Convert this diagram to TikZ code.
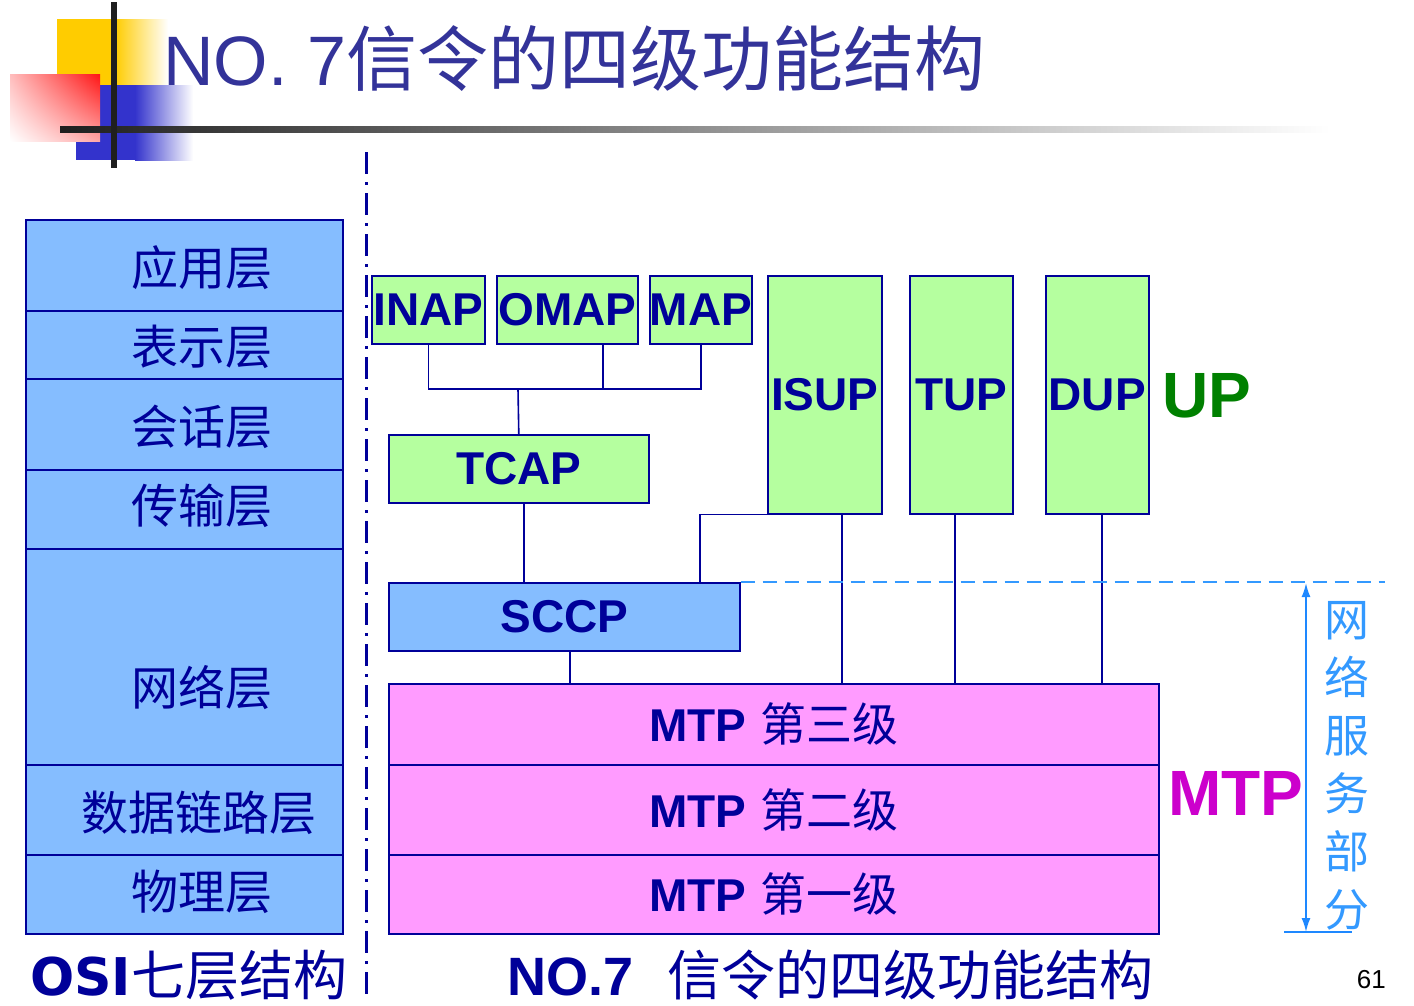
\documentclass[tikz,border=0pt]{standalone}
\usepackage{fontspec}
\setmainfont{Liberation Sans}
\newfontfamily\cjk{Noto Sans CJK SC}
\newfontfamily\dejavu{DejaVu Sans}
\usetikzlibrary{arrows.meta,shadings}

\definecolor{navy}{RGB}{0,0,153}
\definecolor{titleblue}{RGB}{51,51,153}
\definecolor{osiblue}{RGB}{133,189,255}
\definecolor{upgreen}{RGB}{181,255,159}
\definecolor{mtppink}{RGB}{255,155,255}
\definecolor{netblue}{RGB}{51,153,255}
\definecolor{arrowblue}{RGB}{30,136,255}
\definecolor{upcolor}{RGB}{0,128,0}
\definecolor{mtpcolor}{RGB}{204,0,204}
\definecolor{logoyellow}{RGB}{255,204,0}
\definecolor{logoblue}{RGB}{51,51,204}
\definecolor{logored}{RGB}{255,20,20}

\newcommand\pxsize[1]{\fontsize{#1}{#1}\selectfont}
\newcommand\levelname[1]{MTP\hspace{14pt}{\mdseries\cjk #1}}

\begin{document}
\begin{tikzpicture}[x=1pt,y=-1pt,
  osilayer/.style={draw=navy, line width=1.6pt, fill=osiblue, inner sep=0,
    anchor=north west, minimum width=317},
  osilabel/.style={text=navy, font=\cjk\pxsize{47}, inner sep=0},
  upbox/.style={draw=navy, line width=1.6pt, fill=upgreen, inner sep=0,
    anchor=north west, text=navy, font=\bfseries\pxsize{46}},
  sccpbox/.style={upbox, fill=osiblue},
  mtpbox/.style={draw=navy, line width=1.6pt, fill=mtppink, inner sep=0,
    anchor=north west, minimum width=770, text=navy, font=\bfseries\pxsize{46}},
  conn/.style={draw=navy, line width=1.6pt},
  divider/.style={draw=navy, line width=3pt, dash pattern=on 22pt off 8pt on 3pt off 8pt},
  boundary/.style={draw=netblue, line width=1.8pt, dash pattern=on 14pt off 8pt},
  span/.style={draw=arrowblue, line width=1.8pt},
]
\useasboundingbox (0,0) rectangle (1414,1005);

% ---- corner emblem ----
\fill[logoyellow] (57,19) rectangle (115,85);
\shade[left color=logoyellow, right color=white] (115,19) rectangle (168,85);
\fill[logoblue] (76,85) rectangle (135,160);
\shade[left color=logoblue, right color=white] (135,85) rectangle (193,160);
\shade[upper right=logored, lower left=white, upper left=logored!28, lower right=logored!38]
  (10,74) rectangle (100,141);
\shade[left color=black!88, right color=white] (60,126) rectangle (1330,132);
\fill[black!88] (111,2) rectangle (117,168);

% ---- heading ----
\node[anchor=base west, inner sep=0, text=titleblue] (heading) at (163,85)
  {\pxsize{70}NO. 7{\cjk\pxsize{71}信令的四级功能结构}};

% ---- divider between the two stacks ----
\coordinate (divtop) at (366,152);
\coordinate (divbot) at (366,1000);
\draw[divider] (divtop) -- (divbot);

% ---- OSI seven layers ----
\node[osilayer, minimum height=91] (osi7) at (25,219) {};
\node[osilayer, minimum height=68] (osi6) at (25,310) {};
\node[osilayer, minimum height=91] (osi5) at (25,378) {};
\node[osilayer, minimum height=79] (osi4) at (25,469) {};
\node[osilayer, minimum height=216] (osi3) at (25,548) {};
\node[osilayer, minimum height=90] (osi2) at (25,764) {};
\node[osilayer, minimum height=79] (osi1) at (25,854) {};

\node[osilabel] (l7) at (202,268) {应用层};
\node[osilabel] (l6) at (202,347) {表示层};
\node[osilabel] (l5) at (202,427) {会话层};
\node[osilabel] (l4) at (202,506) {传输层};
\node[osilabel] (l3) at (202,688) {网络层};
\node[osilabel] (l2) at (199,813) {数据链路层};
\node[osilabel] (l1) at (202,892) {物理层};

% ---- No.7 user parts ----
\node[upbox, minimum width=113, minimum height=68] (inap) at (371,275) {INAP};
\node[upbox, minimum width=141, minimum height=68] (omap) at (496,275) {OMAP};
\node[upbox, minimum width=102, minimum height=68] (map)  at (649,275) {MAP};
\node[upbox, minimum width=260, minimum height=68] (tcap) at (388,434) {TCAP};
\node[upbox, minimum width=114, minimum height=238] (isup) at (767,275) {ISUP};
\node[upbox, minimum width=103, minimum height=238] (tup)  at (909,275) {TUP};
\node[upbox, minimum width=103, minimum height=238] (dup)  at (1045,275) {DUP};
\node[sccpbox, minimum width=351, minimum height=68] (sccp) at (388,582) {SCCP};

% ---- MTP levels ----
\node[mtpbox, minimum height=81] (mtp3) at (388,683) {\levelname{第三级}};
\node[mtpbox, minimum height=90] (mtp2) at (388,764) {\levelname{第二级}};
\node[mtpbox, minimum height=79] (mtp1) at (388,854) {\levelname{第一级}};

% ---- connectors ----
\coordinate (bus) at (518,389);
\coordinate (omapdrop) at (603,389);
\coordinate (tcapdrop) at (524,0);
\coordinate (isupfeed) at (700,0);
\coordinate (sccpdrop) at (570,0);
\coordinate (isupdrop) at (842,0);
\coordinate (tupdrop) at (955,0);
\coordinate (dupdrop) at (1102,0);

\draw[conn] (inap.south) |- (bus) -| (map.south);
\draw[conn] (omap.south -| omapdrop) -- (omapdrop);
\draw[conn] (tcap.north) -- (bus);
\draw[conn] (tcap.south -| tcapdrop) -- (sccp.north -| tcapdrop);
\draw[conn] (sccp.north -| isupfeed) |- (isup.south west);
\draw[conn] (sccp.south -| sccpdrop) -- (mtp3.north -| sccpdrop);
\draw[conn] (isup.south -| isupdrop) -- (mtp3.north -| isupdrop);
\draw[conn] (tup.south -| tupdrop) -- (mtp3.north -| tupdrop);
\draw[conn] (dup.south -| dupdrop) -- (mtp3.north -| dupdrop);

% ---- network service part extent ----
\coordinate (boundend) at (1385,582);
\draw[boundary] (sccp.north east) -- (boundend);
\coordinate (spantop) at (1306,583);
\coordinate (spanbot) at (1306,932);
\coordinate (baseleft) at (1284,932);
\coordinate (baseright) at (1352,932);
\draw[span, {Latex[length=14pt,width=9pt]}-{Latex[length=14pt,width=9pt]}] (spantop) -- (spanbot);
\draw[span] (baseleft) -- (baseright);

\node[text=netblue, font=\cjk\fontsize{45}{58}\selectfont, align=center, inner sep=0]
  (nsp) at (1347,766) {网\\络\\服\\务\\部\\分};

% ---- group labels ----
\node[text=upcolor, font=\bfseries\pxsize{64}, inner sep=0] (uplabel) at (1207,396) {UP};
\node[text=mtpcolor, font=\bfseries\pxsize{64}, inner sep=0] (mtplabel) at (1236,793) {MTP};

% ---- captions ----
\node[anchor=base west, inner sep=0, text=navy] (osicap) at (30,995)
  {{\dejavu\bfseries\pxsize{52}OSI}{\cjk\pxsize{54}七层结构}};
\node[anchor=base west, inner sep=0, text=navy] (ss7cap) at (507,995)
  {{\bfseries\pxsize{54}NO.7}\hspace{34pt}{\cjk\pxsize{54}信令的四级功能结构}};
\node[anchor=base east, inner sep=0] (pagenum) at (1386,988) {\pxsize{26}61};
\end{tikzpicture}
\end{document}
